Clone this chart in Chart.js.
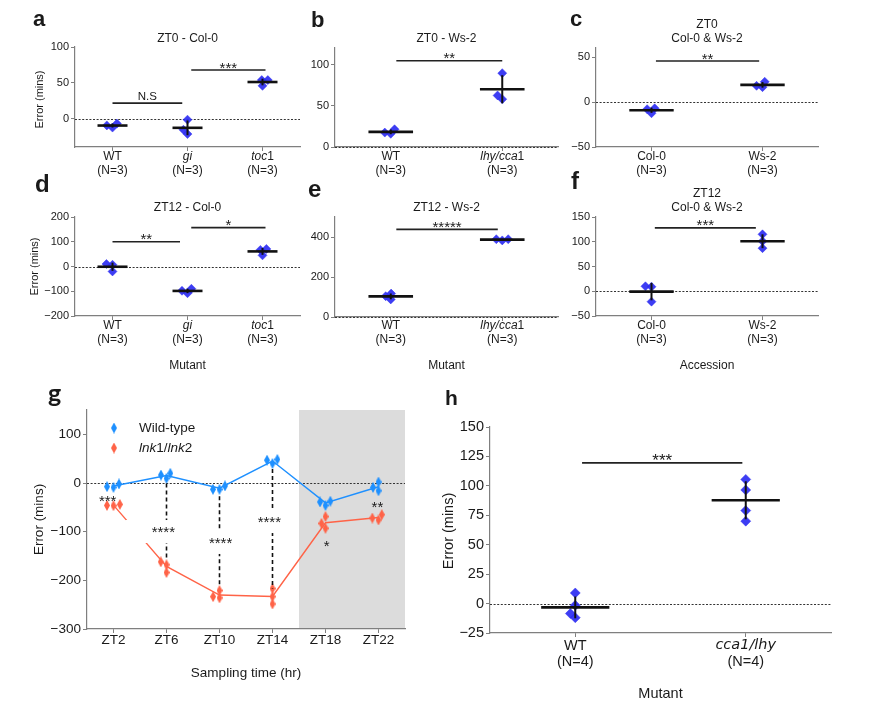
<!DOCTYPE html>
<html><head><meta charset="utf-8">
<script src="https://cdn.jsdelivr.net/npm/chart.js@4.4.0/dist/chart.umd.min.js"></script>
<style>
html,body{margin:0;padding:0;background:#fff;}
#wrap{position:relative;width:882px;height:723px;overflow:hidden;background:#fff;}
#wrap canvas{position:absolute;left:0;top:0;}
</style></head><body><div id="wrap"></div>
<script>
// ================= DATA =================
// Panel a: ZT0 - Col-0
const catsA = ['WT', '_gi_', '_toc_1'];
const nLabels3 = ['(N=3)', '(N=3)', '(N=3)'];
const a_WT = [-9, -12, -6.5];
const a_gi = [-1, -15, -21];
const a_toc1 = [54, 54, 46];
const yTicksA = [0, 50, 100];
const sigA = [[0, 0.93, 22, 'N.S'], [1.05, 2.04, 68, '***']];

// Panel b: ZT0 - Ws-2
const catsB = ['WT', '_lhy/cca_1'];
const b_WT = [17.5, 16, 21.5];
const b_lhy = [89.5, 62.5, 58];
const yTicksB = [0, 50, 100];
const sigB = [[0.05, 1.0, 104.5, '**']];

// Panel c: ZT0 Col-0 & Ws-2
const catsC = ['Col-0', 'Ws-2'];
const c_col = [-8, -12.5, -7];
const c_ws = [18, 16.5, 22.5];
const yTicksC = [-50, 0, 50];
const sigC = [[0.04, 0.97, 45.5, '**']];

// Panel d: ZT12 - Col-0
const d_WT = [10, 7, -20];
const d_gi = [-98, -108, -90];
const d_toc1 = [67, 71, 45];
const yTicksD = [-200, -100, 0, 100, 200];
const sigD = [[0, 0.9, 100, '**'], [1.05, 2.04, 157, '*']];

// Panel e: ZT12 - Ws-2
const e_WT = [104, 88, 117];
const e_lhy = [389, 383, 389];
const yTicksE = [0, 200, 400];
const sigE = [[0.05, 0.96, 438, '*****']];

// Panel f: ZT12 Col-0 & Ws-2
const f_col = [9, 10, -21];
const f_ws = [115, 101, 87];
const yTicksF = [-50, 0, 50, 100, 150];
const sigF = [[0.03, 0.94, 128, '***']];

// Panel g: sampling time course
const catsG = ['ZT2', 'ZT6', 'ZT10', 'ZT14', 'ZT18', 'ZT22'];
const g_wt = [[-7.5, -8.9, -2], [16.4, 9.6, 20], [-13, -13, -6], [47, 40, 48.5], [-39, -46, -37.5], [-9, 2, -16]];
const g_lnk = [[-46, -46.6, -44], [-162, -168, -184], [-233.6, -221, -236], [-217, -233.6, -248.6], [-83, -69, -93], [-72, -76, -65]];
const yTicksG = [-300, -200, -100, 0, 100];
const g_dashCats = [1, 2, 3];
// [category offset, y value of label centre, text, boxed]
const sigG = [[-0.11, -29, '***', false], [-0.06, -92.5, '****', true], [0.02, -115, '****', true],
              [-0.06, -72, '****', true], [0.02, -123, '*', false], [-0.02, -43, '**', false]];
const g_nightStart = 3.5;

// Panel h
const catsH = ['WT', '_cca1/lhy_'];
const nLabels4 = ['(N=4)', '(N=4)'];
const h_WT = [9, -8.5, -1.5, -12];
const h_cca = [105.5, 96.5, 79, 70];
const yTicksH = [-25, 0, 25, 50, 75, 100, 125, 150];
const sigH = [[0.04, 0.98, 119.5, '***']];

// ================= HELPERS =================
const W = 882, H = 723;
const FONT = "'Liberation Sans', Arial, Helvetica, sans-serif";
const AXIS = '#7f7f7f';
const TXT = '#1a1a1a';
const DOT = 'rgba(45,45,242,0.92)';
const BLUE = '#1E90FF', RED = '#FF6347';

const mean = a => a.reduce((s, v) => s + v, 0) / a.length;
const sd = a => { const m = mean(a); return Math.sqrt(a.reduce((s, v) => s + (v - m) ** 2, 0) / (a.length - 1)); };
const fmt = v => (v < 0 ? '\u2212' + Math.abs(v) : '' + v);

// seaborn-like beeswarm (pixel space)
function swarm(vals, cat, pxX, pxY, r) {
  const pts = vals.map(v => ({ v, py: v * pxY })).sort((p, q) => p.py - q.py);
  const placed = [];
  for (const p of pts) {
    const nb = placed.filter(q => Math.abs(p.py - q.py) < 2 * r);
    const cands = [0];
    let leftFirst = true;
    for (const q of nb) {
      const dy = p.py - q.py;
      const dx = Math.sqrt(Math.max(4 * r * r - dy * dy, 0)) * 1.05;
      if (leftFirst) cands.push(q.px - dx, q.px + dx); else cands.push(q.px + dx, q.px - dx);
      leftFirst = !leftFirst;
    }
    const order = cands.map((c, i) => [Math.abs(c), i, c]).sort((a, b) => a[0] - b[0] || a[1] - b[1]);
    let chosen = 0;
    for (const o of order) {
      const c = o[2];
      if (nb.every(q => (c - q.px) ** 2 + (p.py - q.py) ** 2 >= 4 * r * r)) { chosen = c; break; }
    }
    p.px = chosen; placed.push(p);
  }
  return placed.map(p => ({ x: cat + p.px / pxX, y: p.v }));
}

function lineDS(data, color, w, dash) {
  return { data, showLine: true, borderColor: color, backgroundColor: color, borderWidth: w,
           borderDash: dash || [], pointRadius: 0, borderCapStyle: 'butt', fill: false, tension: 0 };
}

function thinDiamond(color, w, h) {
  const c = document.createElement('canvas'); c.width = w; c.height = h;
  const x = c.getContext('2d'); x.fillStyle = color;
  x.beginPath(); x.moveTo(w / 2, 0); x.lineTo(w, h / 2); x.lineTo(w / 2, h); x.lineTo(0, h / 2); x.closePath(); x.fill();
  return c;
}

function drawMixed(ctx, s, cx, cy, size, fam, itFam) {
  const segs = [];
  s.split('_').forEach((t, i) => { if (t) segs.push([t, i % 2 === 1]); });
  const fontOf = it => (it ? `italic ${size}px ${itFam || fam}` : `${size}px ${fam}`);
  let total = 0;
  segs.forEach(sg => { ctx.font = fontOf(sg[1]); total += ctx.measureText(sg[0]).width; });
  let x = cx - total / 2;
  ctx.textAlign = 'left'; ctx.textBaseline = 'middle';
  segs.forEach(sg => { ctx.font = fontOf(sg[1]); ctx.fillText(sg[0], x, cy); x += ctx.measureText(sg[0]).width; });
}

function dotDatasets(groups, sig, pxX, pxY, r, rad) {
  const ds = [];
  groups.forEach((vals, i) => {
    const m = mean(vals), s = sd(vals);
    ds.push(lineDS([{ x: i - 0.2, y: m }, { x: i + 0.2, y: m }], '#111', 2.6));
    ds.push(lineDS([{ x: i, y: m - s }, { x: i, y: m + s }], '#111', 2));
  });
  sig.forEach(sg => ds.push(lineDS([{ x: sg[0], y: sg[2] }, { x: sg[1], y: sg[2] }], '#222', 1.6)));
  const pts = groups.flatMap((vals, i) => swarm(vals, i, pxX, pxY, r));
  ds.push({ data: pts, showLine: false, pointStyle: 'rectRot', pointRadius: rad,
            pointBackgroundColor: DOT, pointBorderColor: DOT, pointBorderWidth: 0.5 });
  return ds;
}

function makePlugin(P) {
  return {
    id: 'deco' + P.id,
    beforeDraw(chart) {
      if (P.shadeFrom === undefined) return;
      const { ctx, chartArea: ca, scales } = chart;
      const x0 = scales.x.getPixelForValue(P.shadeFrom);
      ctx.save(); ctx.fillStyle = '#dcdcdc';
      ctx.fillRect(x0, ca.top, ca.right - x0, ca.bottom - ca.top);
      ctx.restore();
    },
    beforeDatasetsDraw(chart) {
      const { ctx, chartArea: ca, scales } = chart;
      const y0 = Math.round(scales.y.getPixelForValue(0)) + 0.5;
      ctx.save(); ctx.strokeStyle = '#333'; ctx.lineWidth = 1.2; ctx.setLineDash([2, 1.6]);
      ctx.beginPath(); ctx.moveTo(ca.left, y0); ctx.lineTo(ca.right, y0); ctx.stroke();
      ctx.restore();
    },
    afterDatasetsDraw(chart) {
      if (!P.gLabels) return;
      const { ctx, scales } = chart;
      ctx.save();
      P.gLabels.forEach(([dx, yv, txt, boxed], i) => {
        const x = scales.x.getPixelForValue(i + dx);
        const y = scales.y.getPixelForValue(yv);
        if (boxed) { ctx.fillStyle = '#fff'; ctx.fillRect(x - 38, y - 8, 54, 23); }
        ctx.fillStyle = TXT; ctx.font = `${P.starSize}px ${FONT}`;
        ctx.textAlign = 'center'; ctx.textBaseline = 'alphabetic';
        ctx.fillText(txt, x, y + 0.57 * P.starSize);
      });
      ctx.restore();
    },
    afterDraw(chart) {
      const { ctx, chartArea: ca, scales } = chart;
      ctx.save(); ctx.fillStyle = TXT;
      // panel letter
      const L = P.letter;
      ctx.font = `bold ${L.size}px ${L.fam || FONT}`; ctx.textAlign = 'left'; ctx.textBaseline = 'alphabetic';
      ctx.fillText(L.t, L.x, L.y);
      // title
      if (P.title) {
        ctx.font = `${P.titleSize}px ${FONT}`; ctx.textAlign = 'center'; ctx.textBaseline = 'middle';
        P.title.forEach((t, k) => ctx.fillText(t, (ca.left + ca.right) / 2, P.titleY[k]));
      }
      // y title
      if (P.yTitle) {
        ctx.save(); ctx.translate(P.yTitle.x, P.yTitle.y); ctx.rotate(-Math.PI / 2);
        ctx.font = `${P.yTitleSize}px ${FONT}`; ctx.textAlign = 'center'; ctx.textBaseline = 'middle';
        ctx.fillText('Error (mins)', 0, 0); ctx.restore();
      }
      // x title
      if (P.xTitle) {
        ctx.font = `${P.xTitleSize}px ${FONT}`; ctx.textAlign = 'center'; ctx.textBaseline = 'middle';
        ctx.fillText(P.xTitle, (ca.left + ca.right) / 2, P.xTitleY);
      }
      // category labels
      P.cats.forEach((c, i) => {
        const x = scales.x.getPixelForValue(i);
        drawMixed(ctx, c, x, P.catY[0], P.catSize, FONT, P.italicFam);
        if (P.ns) drawMixed(ctx, P.ns[i], x, P.catY[1], P.catSize, FONT);
      });
      // significance labels
      if (P.sig) {
        P.sig.forEach(([x1, x2, yv, txt]) => {
          const x = scales.x.getPixelForValue((x1 + x2) / 2);
          const y = scales.y.getPixelForValue(yv);
          ctx.textAlign = 'center'; ctx.textBaseline = 'alphabetic';
          if (txt === 'N.S') {
            ctx.font = `${P.nsSize}px ${FONT}`; ctx.fillText(txt, x, y - 3.2);
          } else {
            ctx.font = `${P.starSize}px ${FONT}`; ctx.fillText(txt, x, y - P.starGap + 0.57 * P.starSize);
          }
        });
      }
      // legend (panel g)
      if (P.legend) {
        P.legend.forEach(([img, label, lx, ly]) => {
          ctx.drawImage(img, lx - img.width / 2, ly - img.height / 2);
          ctx.fillStyle = TXT;
          const segs = []; label.split('_').forEach((t, i) => { if (t) segs.push([t, i % 2 === 1]); });
          let x = lx + 25; ctx.textAlign = 'left'; ctx.textBaseline = 'middle';
          segs.forEach(sg => { ctx.font = (sg[1] ? 'italic ' : '') + `${P.catSize}px ${FONT}`; ctx.fillText(sg[0], x, ly); x += ctx.measureText(sg[0]).width; });
        });
      }
      ctx.restore();
    }
  };
}

function buildPanel(P) {
  const cv = document.createElement('canvas');
  cv.width = W; cv.height = H; cv.style.width = W + 'px'; cv.style.height = H + 'px';
  document.getElementById('wrap').appendChild(cv);
  const A = P.area, YW = 40, XH = 20;
  const pxY = (A.b - A.t) / (P.y[1] - P.y[0]);
  const pxX = (A.r - A.l) / (P.x[1] - P.x[0]);
  const datasets = P.build(pxX, pxY);
  const gridOpt = { display: true, drawOnChartArea: false, drawTicks: true, tickLength: 4, color: AXIS, lineWidth: 1 };
  const borderOpt = { display: true, color: AXIS, width: 1.2 };
  new Chart(cv.getContext('2d'), {
    type: 'scatter',
    data: { datasets },
    options: {
      responsive: false, maintainAspectRatio: false, animation: false, devicePixelRatio: 1, events: [],
      layout: { padding: { left: A.l - YW, top: A.t, right: W - A.r, bottom: H - A.b - XH } },
      plugins: { legend: { display: false }, tooltip: { enabled: false }, title: { display: false } },
      scales: {
        x: { type: 'linear', position: 'bottom', min: P.x[0], max: P.x[1],
             afterBuildTicks: s => { s.ticks = P.cats.map((c, i) => ({ value: i })); },
             afterFit: s => { s.height = XH; },
             grid: gridOpt, border: borderOpt,
             ticks: { autoSkip: false, maxRotation: 0, callback: () => '', font: { size: 2 } } },
        y: { type: 'linear', position: 'left', min: P.y[0], max: P.y[1],
             afterBuildTicks: s => { s.ticks = P.yTicks.map(v => ({ value: v })); },
             afterFit: s => { s.width = YW; },
             grid: gridOpt, border: borderOpt,
             ticks: { autoSkip: false, padding: 2, color: TXT, font: { family: FONT, size: P.tickSize },
                      callback: v => fmt(v) } }
      }
    },
    plugins: [makePlugin(P)]
  });
}

const rowA = { titleSize: 12, tickSize: 11, catSize: 12, yTitleSize: 11, xTitleSize: 12, starSize: 15, starGap: 6, nsSize: 11.5 };

const panels = [
  Object.assign({ id: 'a', area: { l: 75, t: 47, r: 300, b: 147 }, x: [-0.5, 2.5], y: [-39, 100], yTicks: yTicksA,
    cats: catsA, ns: nLabels3, sig: sigA, title: ['ZT0 - Col-0'], titleY: [39], catY: [157, 171],
    letter: { t: 'a', x: 33, y: 26, size: 22 }, yTitle: { x: 40, y: 99.5 },
    build: (px, py) => dotDatasets([a_WT, a_gi, a_toc1], sigA, px, py, 2.9, 4.5) }, rowA),
  Object.assign({ id: 'b', area: { l: 335, t: 48, r: 558, b: 147 }, x: [-0.5, 1.5], y: [0, 120], yTicks: yTicksB,
    cats: catsB, ns: nLabels3, sig: sigB, title: ['ZT0 - Ws-2'], titleY: [39], catY: [157, 171],
    letter: { t: 'b', x: 311, y: 27, size: 22 },
    build: (px, py) => dotDatasets([b_WT, b_lhy], sigB, px, py, 2.9, 4.5) }, rowA),
  Object.assign({ id: 'c', area: { l: 596, t: 48, r: 818, b: 147 }, x: [-0.5, 1.5], y: [-50, 60], yTicks: yTicksC,
    cats: catsC, ns: nLabels3, sig: sigC, title: ['ZT0', 'Col-0 & Ws-2'], titleY: [25, 39], catY: [157, 171],
    letter: { t: 'c', x: 570, y: 26, size: 22 },
    build: (px, py) => dotDatasets([c_col, c_ws], sigC, px, py, 2.9, 4.5) }, rowA),
  Object.assign({ id: 'd', area: { l: 75, t: 217, r: 300, b: 316 }, x: [-0.5, 2.5], y: [-200, 200], yTicks: yTicksD,
    cats: catsA, ns: nLabels3, sig: sigD, title: ['ZT12 - Col-0'], titleY: [207.7], catY: [326, 340],
    letter: { t: 'd', x: 35, y: 192, size: 24 }, yTitle: { x: 35, y: 266.5 }, xTitle: 'Mutant', xTitleY: 366,
    build: (px, py) => dotDatasets([d_WT, d_gi, d_toc1], sigD, px, py, 2.9, 4.5) }, rowA),
  Object.assign({ id: 'e', area: { l: 335, t: 217, r: 558, b: 317 }, x: [-0.5, 1.5], y: [0, 500], yTicks: yTicksE,
    cats: catsB, ns: nLabels3, sig: sigE, title: ['ZT12 - Ws-2'], titleY: [207.7], catY: [326, 340],
    letter: { t: 'e', x: 308, y: 197, size: 24 }, xTitle: 'Mutant', xTitleY: 366,
    build: (px, py) => dotDatasets([e_WT, e_lhy], sigE, px, py, 2.9, 4.5) }, rowA),
  Object.assign({ id: 'f', area: { l: 596, t: 217, r: 818, b: 316 }, x: [-0.5, 1.5], y: [-50, 150], yTicks: yTicksF,
    cats: catsC, ns: nLabels3, sig: sigF, title: ['ZT12', 'Col-0 & Ws-2'], titleY: [194, 207.7], catY: [326, 340],
    letter: { t: 'f', x: 571, y: 189, size: 24 }, xTitle: 'Accession', xTitleY: 366,
    build: (px, py) => dotDatasets([f_col, f_ws], sigF, px, py, 2.9, 4.5) }, rowA),
];

// Panel g
const gWTMeans = g_wt.map(mean), gLNKMeans = g_lnk.map(mean);
const imgBlue = thinDiamond(BLUE, 6, 11), imgRed = thinDiamond(RED, 6, 11);
panels.push({
  id: 'g', area: { l: 87, t: 410, r: 405, b: 629 }, x: [-0.5, 5.5], y: [-300, 150], yTicks: yTicksG,
  cats: catsG, catY: [640.7], catSize: 13.5, tickSize: 13.5, yTitleSize: 13.5, xTitleSize: 13.5,
  starSize: 15, shadeFrom: g_nightStart, gLabels: sigG,
  letter: { t: 'g', x: 48, y: 402, size: 25, fam: "Lato, 'Open Sans', sans-serif" },
  yTitle: { x: 39, y: 519.5 }, xTitle: 'Sampling time (hr)', xTitleY: 673,
  legend: [[imgBlue, 'Wild-type', 114, 428], [imgRed, '_lnk_1/_lnk_2', 114, 448]],
  build: (px, py) => {
    const ds = [];
    g_dashCats.forEach(i => {
      ds.push(lineDS([{ x: i, y: gWTMeans[i] - 8 / py }, { x: i, y: gLNKMeans[i] + 8 / py }], '#111', 1.6, [4, 3]));
    });
    ds.push({ data: g_wt.flatMap((v, i) => swarm(v, i, px, py, 3.1)), showLine: false, pointStyle: imgBlue, pointRadius: 5 });
    ds.push({ data: g_lnk.flatMap((v, i) => swarm(v, i, px, py, 3.1)), showLine: false, pointStyle: imgRed, pointRadius: 5 });
    ds.push(lineDS(gWTMeans.map((m, i) => ({ x: i, y: m })), BLUE, 1.4));
    ds.push(lineDS(gLNKMeans.map((m, i) => ({ x: i, y: m })), RED, 1.4));
    return ds;
  }
});

// Panel h
panels.push({
  id: 'h', area: { l: 490, t: 427, r: 831, b: 633 }, x: [-0.5, 1.5], y: [-25, 150], yTicks: yTicksH,
  cats: catsH, ns: nLabels4, sig: sigH, catY: [645.7, 662], catSize: 14.5, tickSize: 14.5, yTitleSize: 14.5,
  xTitleSize: 14.5, starSize: 17, starGap: 6.7, italicFam: "'DejaVu Sans', sans-serif",
  letter: { t: 'h', x: 445, y: 405, size: 21 }, yTitle: { x: 448.5, y: 531 }, xTitle: 'Mutant', xTitleY: 694,
  build: (px, py) => dotDatasets([h_WT, h_cca], sigH, px, py, 3.1, 5)
});

panels.forEach(buildPanel);
</script>
</body></html>
